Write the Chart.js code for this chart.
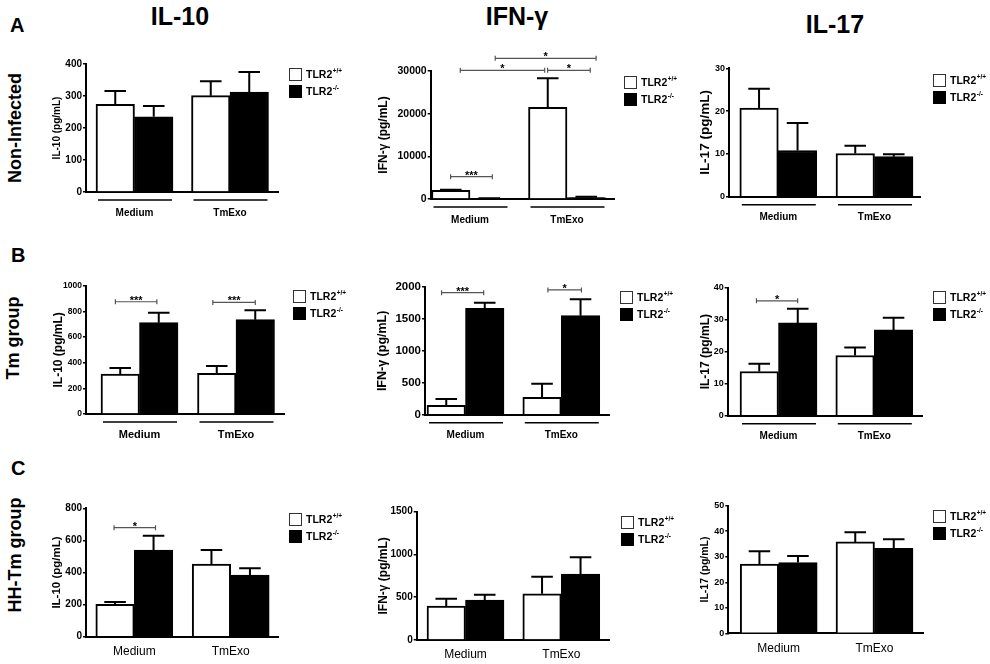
<!DOCTYPE html>
<html lang="en">
<head>
<meta charset="utf-8" />
<title>TLR2 cytokines</title>
<script src="https://cdn.jsdelivr.net/npm/chart.js@4.4.1/dist/chart.umd.min.js"></script>
<style>
  body { margin: 0; background: #fff; width: 990px; height: 664px; position: relative; overflow: hidden; font-family: Arial, "Liberation Sans", sans-serif; }
  canvas { position: absolute; }
  .txt { position: absolute; font-weight: bold; color: #000; white-space: nowrap; line-height: 1; }
  .mid { transform: translateX(-50%); }
  .rot { transform: translate(-50%, -50%) rotate(-90deg); font-size: 18px; }
</style>
</head>
<body>
<div class="txt" style="left:10px; top:15px; font-size:20px">A</div>
<div class="txt" style="left:11px; top:245px; font-size:20px">B</div>
<div class="txt" style="left:11px; top:458px; font-size:20px">C</div>
<div class="txt mid" id="t0" style="left:180px; top:4px; font-size:25px"></div>
<div class="txt mid" id="t1" style="left:517px; top:4px; font-size:25px"></div>
<div class="txt mid" id="t2" style="left:835px; top:12px; font-size:25px"></div>
<div class="txt rot" id="g0" style="left:15px; top:128px"></div>
<div class="txt rot" id="g1" style="left:13px; top:338px"></div>
<div class="txt rot" id="g2" style="left:14.5px; top:555px"></div>
<script>
const categories = ["Medium", "TmExo"];
const seriesNames = ["TLR2", "TLR2"];
const seriesSup = ["+/+", "-/-"];
const cytokines = ["IL-10", "IFN-γ", "IL-17"];
const groups = ["Non-Infected", "Tm group", "HH-Tm group"];
const yTitles = ["IL-10 (pg/mL)", "IFN-γ (pg/mL)", "IL-17 (pg/mL)"];

// means and SEM per category [Medium, TmExo]
// A - non infected
const il10NiWT = [274, 301], il10NiWTsem = [42, 45];
const il10NiKO = [235, 312], il10NiKOsem = [34, 63];
const ifnNiWT = [2040, 21500], ifnNiWTsem = [120, 6800];
const ifnNiKO = [150, 350], ifnNiKOsem = [40, 200];
const il17NiWT = [20.7, 10.1], il17NiWTsem = [4.5, 1.8];
const il17NiKO = [10.8, 9.35], il17NiKOsem = [6.4, 0.55];
// B - Tm group
const il10TmWT = [312, 317], il10TmWTsem = [46, 57];
const il10TmKO = [712, 735], il10TmKOsem = [78, 73];
const ifnTmWT = [147, 272], ifnTmWTsem = [99, 214];
const ifnTmKO = [1667, 1551], ifnTmKOsem = [88, 257];
const il17TmWT = [13.8, 18.8], il17TmWTsem = [2.4, 2.5];
const il17TmKO = [29, 26.8], il17TmKOsem = [4.4, 3.8];
// C - HH-Tm group
const il10HhWT = [202, 453], il10HhWTsem = [14, 87];
const il10HhKO = [540, 384], il10HhKOsem = [89, 42];
const ifnHhWT = [397, 541], ifnHhWTsem = [86, 199];
const ifnHhKO = [468, 771], ifnHhKOsem = [62, 195];
const il17HhWT = [27.1, 35.8], il17HhWTsem = [5.1, 3.8];
const il17HhKO = [27.7, 33.3], il17HhKOsem = [2.6, 3.6];

// y axis ranges
const yMaxes = [400, 30000, 30, 1000, 2000, 40, 800, 1500, 50];
const ySteps = [100, 10000, 10, 200, 500, 10, 200, 500, 10];

// significance brackets: [x from, x to (0 = Medium, 1 = TmExo), value, label]
const sigIfnNi = [[-0.2, 0.23, 5230, "***"], [-0.1, 0.77, 30160, "*"], [0.8, 1.24, 30160, "*"], [0.26, 1.3, 32980, "*"]];
const sigIl10Tm = [[-0.25, 0.18, 875, "***"], [0.76, 1.2, 870, "***"]];
const sigIfnTm = [[-0.25, 0.19, 1911, "***"], [0.86, 1.21, 1954, "*"]];
const sigIl17Tm = [[-0.23, 0.2, 35.9, "*"]];
const sigIl10Hh = [[-0.21, 0.22, 679, "*"]];

const panelData = [
  [il10NiWT, il10NiWTsem, il10NiKO, il10NiKOsem, []],
  [ifnNiWT, ifnNiWTsem, ifnNiKO, ifnNiKOsem, sigIfnNi],
  [il17NiWT, il17NiWTsem, il17NiKO, il17NiKOsem, []],
  [il10TmWT, il10TmWTsem, il10TmKO, il10TmKOsem, sigIl10Tm],
  [ifnTmWT, ifnTmWTsem, ifnTmKO, ifnTmKOsem, sigIfnTm],
  [il17TmWT, il17TmWTsem, il17TmKO, il17TmKOsem, sigIl17Tm],
  [il10HhWT, il10HhWTsem, il10HhKO, il10HhKOsem, sigIl10Hh],
  [ifnHhWT, ifnHhWTsem, ifnHhKO, ifnHhKOsem, []],
  [il17HhWT, il17HhWTsem, il17HhKO, il17HhKOsem, []]
];

// page layout of each panel (pixels)
const layouts = [
  { axisX: 86, top: 64, zero: 192, end: 278, c0: 134.5, c1: 230, titleX: 57, titleSize: 10, tickSize: 10, catSize: 10, legend: [289, 68] },
  { axisX: 430.7, top: 71, zero: 199, end: 614, c0: 470, c1: 567, titleX: 383, titleSize: 12, tickSize: 10.5, catSize: 10, legend: [624, 76] },
  { axisX: 729, top: 68.3, zero: 196.7, end: 920, c0: 778.3, c1: 874.5, titleX: 705, titleSize: 13.5, tickSize: 9, catSize: 10, legend: [933, 74] },
  { axisX: 86, top: 285.7, zero: 414, end: 284, c0: 139.5, c1: 236, titleX: 58, titleSize: 12, tickSize: 8.5, catSize: 11, legend: [293, 290] },
  { axisX: 425, top: 287, zero: 414.7, end: 609.3, c0: 465.5, c1: 561.3, titleX: 382.7, titleSize: 12.5, tickSize: 11.5, catSize: 10, legend: [620, 291] },
  { axisX: 727.7, top: 287.7, zero: 415.7, end: 922.7, c0: 778.5, c1: 874.3, titleX: 705, titleSize: 12, tickSize: 9, catSize: 10, legend: [933, 291] },
  { axisX: 86, top: 508.3, zero: 636.7, end: 278.3, c0: 134.3, c1: 230.7, titleX: 57, titleSize: 11.5, tickSize: 10, catSize: 12, legend: [289, 513] },
  { axisX: 416.7, top: 511.7, zero: 640, end: 609.3, c0: 465.5, c1: 561.3, titleX: 383, titleSize: 12, tickSize: 10, catSize: 12, legend: [621, 516] },
  { axisX: 728.3, top: 505.7, zero: 633.3, end: 923.3, c0: 778.7, c1: 874.5, titleX: 705, titleSize: 10.5, tickSize: 9, catSize: 12, legend: [933, 510] }
];
const rowBoxes = [[40, 190], [232, 214], [446, 218]];
const colRight = [350, 695, 990];
const fam = 'Arial, "Liberation Sans", sans-serif';

cytokines.forEach((c, i) => { document.getElementById("t" + i).textContent = c; });
groups.forEach((g, i) => { document.getElementById("g" + i).textContent = g; });

// error bars, brackets, group labels and legend
const panelPlugin = {
  id: "panelExtras",
  afterDatasetsDraw(chart) {
    const ctx = chart.ctx, ys = chart.scales.y;
    ctx.save();
    ctx.strokeStyle = "#000";
    ctx.lineWidth = 2;
    chart.data.datasets.forEach((ds, di) => {
      chart.getDatasetMeta(di).data.forEach((bar, i) => {
        const top = ys.getPixelForValue(ds.data[i].y + ds.sem[i]);
        const half = bar.width * 0.28;
        ctx.beginPath();
        ctx.moveTo(bar.x, bar.y);
        ctx.lineTo(bar.x, top);
        ctx.moveTo(bar.x - half, top);
        ctx.lineTo(bar.x + half, top);
        ctx.stroke();
      });
    });
    ctx.restore();
  },
  afterDraw(chart) {
    const o = chart.options.plugins.panelExtras;
    const ctx = chart.ctx, xs = chart.scales.x, ys = chart.scales.y;
    const bottom = chart.chartArea.bottom;
    ctx.save();
    // significance brackets
    ctx.strokeStyle = "#555";
    ctx.fillStyle = "#000";
    ctx.lineWidth = 1.2;
    ctx.textAlign = "center";
    ctx.textBaseline = "alphabetic";
    ctx.font = "bold 11px " + fam;
    o.sig.forEach(([a, b, v, lab]) => {
      const x1 = xs.getPixelForValue(a), x2 = xs.getPixelForValue(b), y = ys.getPixelForValue(v);
      ctx.beginPath();
      ctx.moveTo(x1, y); ctx.lineTo(x2, y);
      ctx.moveTo(x1, y - 2.5); ctx.lineTo(x1, y + 2.5);
      ctx.moveTo(x2, y - 2.5); ctx.lineTo(x2, y + 2.5);
      ctx.stroke();
      ctx.fillText(lab, (x1 + x2) / 2, y + 2);
    });
    // category labels and group underlines
    const m0 = chart.getDatasetMeta(0).data, m1 = chart.getDatasetMeta(1).data;
    ctx.strokeStyle = "#000";
    ctx.lineWidth = 1.5;
    ctx.textBaseline = "middle";
    ctx.font = (o.underline ? "bold " : "") + o.catSize + "px " + fam;
    categories.forEach((cat, i) => {
      const cx = xs.getPixelForValue(i);
      if (o.underline) {
        const l = m0[i].x - m0[i].width / 2 + 2, r = m1[i].x + m1[i].width / 2 - 1;
        ctx.beginPath();
        ctx.moveTo(l, bottom + 8); ctx.lineTo(r, bottom + 8);
        ctx.stroke();
        ctx.fillText(cat, cx, bottom + 21);
      } else {
        ctx.fillText(cat, cx, bottom + 15);
      }
    });
    // legend
    const [lx, ly] = o.legend;
    ctx.textAlign = "left";
    seriesNames.forEach((name, i) => {
      const by = ly + i * 17;
      ctx.fillStyle = i === 0 ? "#fff" : "#000";
      ctx.fillRect(lx, by, 13, 13);
      ctx.strokeStyle = i === 0 ? "#333" : "#000";
      ctx.lineWidth = 1;
      ctx.strokeRect(lx + 0.5, by + 0.5, 12, 12);
      ctx.fillStyle = "#000";
      ctx.font = "bold 10.5px " + fam;
      ctx.fillText(name, lx + 17, by + 7);
      const w = ctx.measureText(name).width;
      ctx.font = "bold 6.5px " + fam;
      ctx.fillText(seriesSup[i], lx + 17 + w + 0.5, by + 3);
    });
    ctx.restore();
  }
};

layouts.forEach((g, k) => {
  const row = Math.floor(k / 3), col = k % 3;
  const [T, H] = rowBoxes[row];
  const L = Math.round(g.titleX - 0.6 * g.titleSize);
  const W = colRight[col] - L;
  const [wt, wtSem, ko, koSem, sig] = panelData[k];
  const unit = g.c1 - g.c0;
  const cv = document.createElement("canvas");
  cv.width = W; cv.height = H;
  cv.style.left = L + "px"; cv.style.top = T + "px";
  cv.style.width = W + "px"; cv.style.height = H + "px";
  document.body.appendChild(cv);

  new Chart(cv, {
    type: "bar",
    data: {
      datasets: [
        { label: seriesNames[0] + seriesSup[0], data: categories.map((c, i) => ({ x: i, y: wt[i] })), sem: wtSem, backgroundColor: "#fff", borderColor: "#000", borderWidth: 2, barThickness: 38.5 },
        { label: seriesNames[1] + seriesSup[1], data: categories.map((c, i) => ({ x: i, y: ko[i] })), sem: koSem, backgroundColor: "#000", borderColor: "#000", borderWidth: 2, barThickness: 38.5 }
      ]
    },
    options: {
      responsive: false,
      animation: false,
      events: [],
      layout: { padding: { left: 0, top: g.top - T, right: L + W - g.end, bottom: T + H - g.zero } },
      plugins: {
        legend: { display: false },
        tooltip: { enabled: false },
        panelExtras: { sig: sig, legend: [g.legend[0] - L, g.legend[1] - T], underline: row < 2, catSize: g.catSize }
      },
      scales: {
        x: {
          type: "linear", offset: false,
          min: (g.axisX - g.c0) / unit, max: (g.end - g.c0) / unit,
          ticks: { display: false },
          grid: { display: false },
          border: { display: true, color: "#000", width: 2 },
          afterFit: (s) => { s.height = 0; }
        },
        y: {
          min: 0, max: yMaxes[k],
          ticks: { stepSize: ySteps[k], color: "#000", padding: 1, font: { family: fam, size: g.tickSize, weight: "bold" }, callback: (v) => String(v) },
          grid: { drawOnChartArea: false, drawTicks: true, tickLength: 3, color: "#000", lineWidth: 1.5 },
          border: { color: "#000", width: 2 },
          title: { display: true, text: yTitles[col], color: "#000", padding: 0, font: { family: fam, size: g.titleSize, weight: "bold" } },
          afterFit: (s) => { s.width = g.axisX - L; }
        }
      }
    },
    plugins: [panelPlugin]
  });
});
</script>
</body>
</html>
